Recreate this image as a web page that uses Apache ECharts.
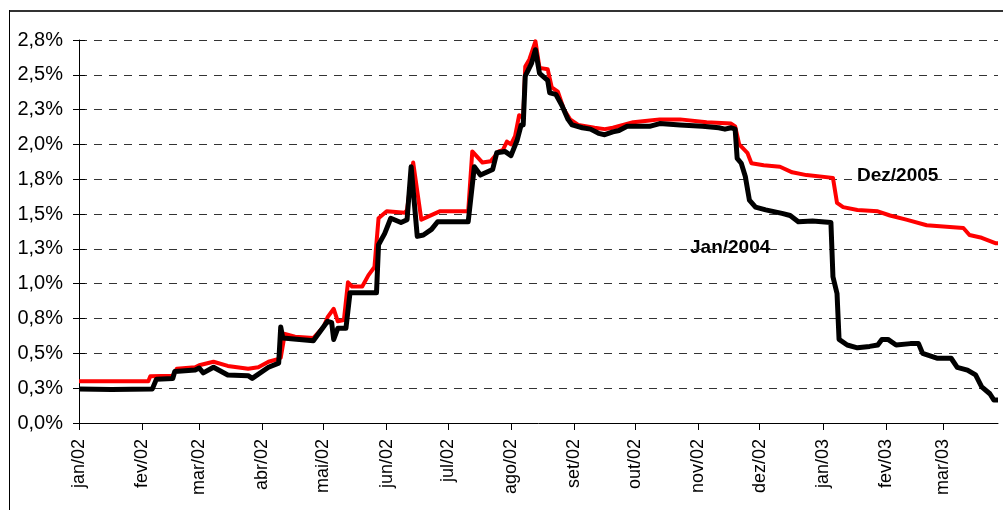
<!DOCTYPE html>
<html>
<head>
<meta charset="utf-8">
<title>Spread</title>
<script src="https://cdn.jsdelivr.net/npm/echarts@6/dist/echarts.min.js"></script>
<style>
    html, body { margin: 0; padding: 0; background: #fff; }
    #myChart { width: 1003px; height: 510px; }
</style>
</head>
<body>
<div id="myChart"></div>
<script>
    // nomes dos meses no eixo x
    const meses = ['jan', 'fev', 'mar', 'abr', 'mai', 'jun', 'jul', 'ago', 'set', 'out', 'nov', 'dez']

    // eixo diário de 01/01/2002 a 28/03/2003
    const dias = []
    for (let t = Date.UTC(2002, 0, 1); t <= Date.UTC(2003, 2, 28); t += 86400000) {
        dias.push(new Date(t).toISOString().slice(0, 10))
    }

    // Dez/2005 (vermelho)
    const datasDez2005 = [
        '2002-01-01', '2002-02-04', '2002-02-05', '2002-02-16', '2002-02-18', '2002-02-27', '2002-03-01',
        '2002-03-08', '2002-03-15', '2002-03-25', '2002-03-30', '2002-04-04', '2002-04-09', '2002-04-10',
        '2002-04-12', '2002-04-17', '2002-04-26', '2002-05-01', '2002-05-03', '2002-05-06', '2002-05-08',
        '2002-05-11', '2002-05-13', '2002-05-15', '2002-05-20', '2002-05-23', '2002-05-26', '2002-05-28',
        '2002-06-01', '2002-06-10', '2002-06-11', '2002-06-14', '2002-06-18', '2002-06-21', '2002-06-27',
        '2002-07-11', '2002-07-13', '2002-07-18', '2002-07-22', '2002-07-26', '2002-07-28', '2002-07-30',
        '2002-08-01', '2002-08-03', '2002-08-05', '2002-08-07', '2002-08-08', '2002-08-10', '2002-08-13',
        '2002-08-15', '2002-08-19', '2002-08-21', '2002-08-24', '2002-08-27', '2002-08-30', '2002-09-03',
        '2002-09-11', '2002-09-16', '2002-09-20', '2002-09-25', '2002-09-30', '2002-10-07', '2002-10-13',
        '2002-10-23', '2002-11-05', '2002-11-17', '2002-11-19', '2002-11-21', '2002-11-25', '2002-11-27',
        '2002-12-03', '2002-12-11', '2002-12-17', '2002-12-24', '2003-01-06', '2003-01-08', '2003-01-11',
        '2003-01-18', '2003-01-28', '2003-02-03', '2003-02-11', '2003-02-21', '2003-03-06', '2003-03-11',
        '2003-03-14', '2003-03-20', '2003-03-27', '2003-03-28'
    ]
    const valoresDez2005 = [
        0.30, 0.30, 0.335, 0.34, 0.39, 0.40, 0.415,
        0.44, 0.41, 0.39, 0.40, 0.44, 0.46, 0.47,
        0.64, 0.62, 0.61, 0.69, 0.76, 0.82, 0.73,
        0.74, 1.01, 0.98, 0.98, 1.06, 1.12, 1.47,
        1.52, 1.51, 1.53, 1.87, 1.46, 1.48, 1.52,
        1.52, 1.95, 1.87, 1.88, 1.95, 1.96, 2.02,
        2.00, 2.06, 2.21, 2.19, 2.56, 2.61, 2.74,
        2.55, 2.54, 2.41, 2.38, 2.25, 2.18, 2.14,
        2.12, 2.11, 2.12, 2.14, 2.16, 2.17, 2.18,
        2.18, 2.16, 2.15, 2.13, 2.00, 1.94, 1.865,
        1.85, 1.84, 1.80, 1.78, 1.76, 1.58, 1.55,
        1.53, 1.52, 1.49, 1.46, 1.42, 1.405, 1.40,
        1.35, 1.33, 1.29, 1.29
    ]

    // Jan/2004 (preto)
    const datasJan2004 = [
        '2002-01-01', '2002-01-17', '2002-02-06', '2002-02-08', '2002-02-16', '2002-02-17', '2002-02-27',
        '2002-03-01', '2002-03-03', '2002-03-08', '2002-03-15', '2002-03-25', '2002-03-27', '2002-04-04',
        '2002-04-09', '2002-04-10', '2002-04-11', '2002-04-26', '2002-05-03', '2002-05-05', '2002-05-06',
        '2002-05-08', '2002-05-12', '2002-05-14', '2002-05-27', '2002-05-28', '2002-05-31', '2002-06-03',
        '2002-06-08', '2002-06-11', '2002-06-13', '2002-06-16', '2002-06-19', '2002-06-23', '2002-06-26',
        '2002-07-11', '2002-07-14', '2002-07-17', '2002-07-23', '2002-07-25', '2002-07-29', '2002-08-01',
        '2002-08-04', '2002-08-06', '2002-08-07', '2002-08-08', '2002-08-11', '2002-08-13', '2002-08-15',
        '2002-08-19', '2002-08-20', '2002-08-23', '2002-08-26', '2002-08-29', '2002-08-31', '2002-09-05',
        '2002-09-09', '2002-09-13', '2002-09-16', '2002-09-20', '2002-09-23', '2002-09-27', '2002-10-08',
        '2002-10-13', '2002-10-23', '2002-11-03', '2002-11-11', '2002-11-14', '2002-11-17', '2002-11-19',
        '2002-11-20', '2002-11-22', '2002-11-24', '2002-11-26', '2002-11-29', '2002-12-04', '2002-12-12',
        '2002-12-16', '2002-12-20', '2002-12-27', '2003-01-05', '2003-01-06', '2003-01-08', '2003-01-09',
        '2003-01-13', '2003-01-18', '2003-01-24', '2003-01-28', '2003-01-30', '2003-02-02', '2003-02-06',
        '2003-02-13', '2003-02-17', '2003-02-19', '2003-02-26', '2003-03-05', '2003-03-08', '2003-03-13',
        '2003-03-17', '2003-03-20', '2003-03-24', '2003-03-26', '2003-03-28'
    ]
    const valoresJan2004 = [
        0.245, 0.24, 0.245, 0.315, 0.32, 0.37, 0.38,
        0.395, 0.36, 0.40, 0.345, 0.34, 0.32, 0.40,
        0.43, 0.69, 0.61, 0.59, 0.73, 0.72, 0.60,
        0.68, 0.68, 0.935, 0.935, 1.28, 1.36, 1.47,
        1.44, 1.46, 1.84, 1.34, 1.35, 1.39, 1.445,
        1.445, 1.84, 1.78, 1.82, 1.94, 1.95, 1.92,
        2.03, 2.14, 2.14, 2.49, 2.58, 2.68, 2.51,
        2.46, 2.37, 2.36, 2.28, 2.18, 2.14, 2.12,
        2.11, 2.08, 2.07, 2.09, 2.10, 2.13, 2.13,
        2.15, 2.14, 2.13, 2.12, 2.11, 2.12, 2.11,
        1.90, 1.865, 1.77, 1.60, 1.55, 1.53, 1.505,
        1.49, 1.445, 1.45, 1.44, 1.05, 0.93, 0.60,
        0.56, 0.54, 0.55, 0.56, 0.60, 0.60, 0.56,
        0.57, 0.57, 0.50, 0.465, 0.465, 0.40, 0.38,
        0.345, 0.26, 0.21, 0.165, 0.165
    ]

    // eixo y: 0 a 2,75 de 0,25 em 0,25
    const yMin = 0
    const yMax = 2.75
    const yPasso = 0.25

    const fonte = '"Liberation Sans", Arial, sans-serif'
    const inicioMes = (index, value) => value.slice(8) === '01'
    const pares = (datas, valores) => datas.map((d, i) => [d, valores[i]])

    let myChart = echarts.init(document.getElementById('myChart'))
    myChart.setOption({
        animation: false,
        backgroundColor: '#fff',
        grid: {
            left: 79,
            right: 5,
            top: 40,
            bottom: 87
        },
        xAxis: {
            type: 'category',
            data: dias,
            boundaryGap: false,
            axisLine: { lineStyle: { color: '#000', width: 1 } },
            axisTick: { interval: inicioMes, length: 7, lineStyle: { color: '#000' } },
            axisLabel: {
                interval: inicioMes,
                rotate: 90,
                margin: 16,
                color: '#000',
                fontFamily: fonte,
                fontSize: 18,
                formatter: v => meses[+v.slice(5, 7) - 1] + '/' + v.slice(2, 4)
            },
            splitLine: { show: false }
        },
        yAxis: [{
            type: 'value',
            min: yMin,
            max: yMax,
            interval: yPasso,
            axisLine: { show: true, lineStyle: { color: '#000', width: 1 } },
            axisTick: { show: true, length: 6, lineStyle: { color: '#000' } },
            axisLabel: {
                margin: 16,
                color: '#000',
                fontFamily: fonte,
                fontSize: 20,
                formatter: v => v.toFixed(1).replace('.', ',') + '%'
            },
            splitLine: {
                show: true,
                lineStyle: { color: '#333', width: 1, type: [8, 7] }
            }
        }, {
            // marcas cruzando o eixo, como no Excel
            type: 'value',
            position: 'left',
            min: yMin,
            max: yMax,
            interval: yPasso,
            axisLine: { show: false },
            axisTick: { show: true, inside: true, length: 6, lineStyle: { color: '#000' } },
            axisLabel: { show: false },
            splitLine: { show: false }
        }],
        series: [{
            name: 'Dez/2005',
            type: 'line',
            data: pares(datasDez2005, valoresDez2005),
            symbol: 'none',
            lineStyle: { color: '#ff0000', width: 4, join: 'round' }
        }, {
            name: 'Jan/2004',
            type: 'line',
            data: pares(datasJan2004, valoresJan2004),
            symbol: 'none',
            lineStyle: { color: '#000', width: 5, join: 'round' }
        }],
        graphic: [{
            type: 'line',
            shape: { x1: 9, y1: 11, x2: 1003, y2: 11 },
            style: { stroke: '#333', lineWidth: 2 }
        }, {
            type: 'line',
            shape: { x1: 9.5, y1: 10, x2: 9.5, y2: 510 },
            style: { stroke: '#000', lineWidth: 1 }
        }, {
            type: 'text',
            left: 857,
            top: 166,
            style: { text: 'Dez/2005', fill: '#000', font: 'bold 19px ' + fonte }
        }, {
            type: 'text',
            left: 690,
            top: 238,
            style: { text: 'Jan/2004', fill: '#000', font: 'bold 19px ' + fonte }
        }]
    })
</script>
</body>
</html>
